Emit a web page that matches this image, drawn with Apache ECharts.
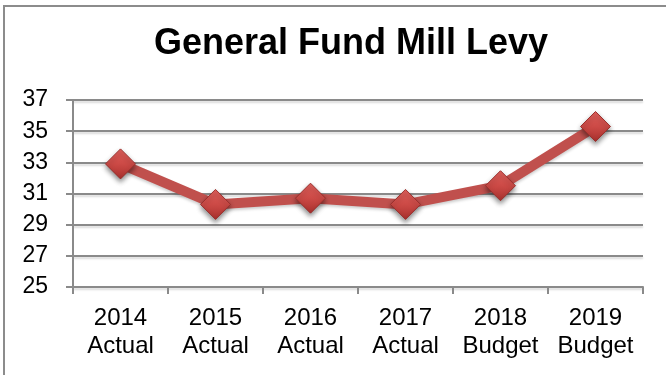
<!DOCTYPE html>
<html>
<head>
<meta charset="utf-8">
<script src="https://cdn.jsdelivr.net/npm/echarts@6/dist/echarts.min.js"></script>
<style>
  html, body { margin: 0; padding: 0; background: #fff; }
  #chart { width: 666px; height: 375px; }
</style>
</head>
<body>
<div id="chart"></div>
<script>
// Mill levy by fiscal year
const chartTitle = 'General Fund Mill Levy';
const years = ['2014', '2015', '2016', '2017', '2018', '2019'];
const kinds = ['Actual', 'Actual', 'Actual', 'Actual', 'Budget', 'Budget'];
const levy = [32.9, 30.3, 30.7, 30.3, 31.5, 35.3];
const yMin = 25, yMax = 37, yStep = 2;

const categories = years.map((y, i) => y + '\n' + kinds[i]);

const chart = echarts.init(document.getElementById('chart'));
const axisGray = '#8a8a8a';
const font = '"Liberation Sans", Arial, sans-serif';

chart.setOption({
  backgroundColor: '#ffffff',
  animation: false,
  title: {
    text: chartTitle,
    left: 346,
    top: 21,
    textAlign: 'center',
    textStyle: { fontFamily: font, fontSize: 36, fontWeight: 'bold', color: '#000' }
  },
  graphic: [{
    type: 'rect',
    shape: { x: 4, y: 6, width: 720, height: 420 },
    style: { fill: 'none', stroke: '#8c8c8c', lineWidth: 2 },
    silent: true
  }],
  grid: { left: 73, right: 23, top: 100, bottom: 88 },
  xAxis: {
    type: 'category',
    data: categories,
    boundaryGap: true,
    axisLine: { lineStyle: { color: axisGray, width: 2 } },
    axisTick: { show: true, interval: 0, length: 7, lineStyle: { color: axisGray, width: 2 } },
    axisLabel: {
      interval: 0, hideOverlap: false,
      fontFamily: font, fontSize: 24, color: '#000', lineHeight: 28, margin: 17
    }
  },
  yAxis: {
    type: 'value',
    min: yMin, max: yMax, interval: yStep,
    axisLine: { show: true, lineStyle: { color: axisGray, width: 2 } },
    axisTick: { show: true, length: 7, lineStyle: { color: axisGray, width: 2 } },
    axisLabel: { fontFamily: font, fontSize: 23, color: '#000', margin: 25 },
    splitLine: {
      lineStyle: {
        color: axisGray, width: 2,
        shadowColor: 'rgba(0,0,0,0.15)', shadowBlur: 2, shadowOffsetY: 2
      }
    }
  },
  series: [{
    type: 'line',
    data: levy,
    symbol: 'diamond',
    symbolSize: 30,
    lineStyle: {
      color: '#c0504d', width: 10,
      shadowColor: 'rgba(0,0,0,0.2)', shadowBlur: 3, shadowOffsetY: 2
    },
    itemStyle: {
      color: new echarts.graphic.LinearGradient(0, 0, 0, 1, [
        { offset: 0, color: '#e0605c' },
        { offset: 0.5, color: '#cc4a46' },
        { offset: 1, color: '#a8302d' }
      ]),
      borderColor: '#9a2f2c',
      borderWidth: 1,
      shadowColor: 'rgba(0,0,0,0.45)',
      shadowBlur: 5,
      shadowOffsetY: 3
    },
    z: 3
  }]
});
</script>
</body>
</html>
